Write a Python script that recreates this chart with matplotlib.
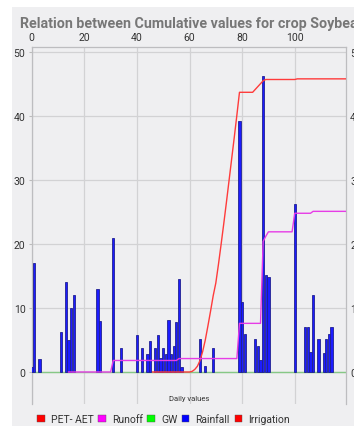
import numpy as np
from matplotlib import pyplot as plt
from matplotlib.patches import Patch, Rectangle

plt.rcParams['font.family'] = ['Roboto', 'DejaVu Sans']

# daily rainfall (bars)
rain_days = [0, 1, 3, 11, 13, 14, 15, 16, 25, 26, 31, 34, 40, 42, 44, 45, 47, 48, 49, 50,
             51, 52, 53, 54, 55, 56, 57, 64, 66, 69, 79, 80, 81, 85, 86, 87, 88, 89, 90,
             100, 104, 105, 106, 107, 109, 111, 112, 113, 114]
rain_vals = [0.8, 17, 2, 6.2, 14, 5, 10, 12, 12.9, 7.9, 21, 3.8, 5.8, 3.8, 2.8, 4.8, 3.8, 5.8, 2.2, 3.8,
             2.8, 8.2, 2.8, 4.0, 7.8, 14.5, 0.8, 5.2, 1.0, 3.8, 39.2, 10.9, 6.0, 5.1, 4.0, 1.9, 46.2, 15.2, 14.9,
             26.3, 7.1, 7.1, 3.2, 12.1, 5.2, 3.0, 5.2, 5.9, 7.1]

# cumulative PET-AET
pet_days = [46, 60, 61, 62, 63, 64, 65, 66, 67, 68, 69, 70, 71, 72, 73, 74, 75, 76, 77, 78,
            79, 84, 88, 89, 100, 101, 119.5]
pet_vals = [0, 0, 0.1, 0.4, 0.9, 1.8, 3.2, 5.0, 7.2, 9.5, 11.9, 13.9, 16.8, 19.9, 23.1, 26.4, 29.8, 33.2, 36.6, 40.1,
            43.7, 43.7, 45.5, 45.7, 45.7, 45.8, 45.8]

# cumulative runoff
ro_days = [14, 30, 31, 55, 56, 78, 79, 87, 88, 89, 90, 99, 100, 106, 107, 119.5]
ro_vals = [0, 0, 1.8, 1.8, 2.1, 2.1, 7.6, 7.6, 20.4, 21.2, 21.9, 21.9, 24.8, 24.8, 25.1, 25.1]

# cumulative GW
gw_days = [0, 119.5]
gw_vals = [0, 0]

legend_names = ['PET- AET', 'Runoff', 'GW', 'Rainfall', 'Irrigation']
legend_colors = ['#ff0000', '#ff00ff', '#00ff00', '#0000ff', '#ff0000']

title = 'Relation between Cumulative values for crop Soybean'
xticks = [0, 20, 40, 60, 80, 100]
yticks = [0, 10, 20, 30, 40, 50]

W, H = 354, 427
fig = plt.figure(figsize=(W / 100, H / 100), dpi=100, facecolor='white')
fig.patches.append(Rectangle((12 / W, 0), 1, 1 - 8 / H, transform=fig.transFigure,
                             facecolor='#efeff1', edgecolor='none', zorder=-10))

ax = fig.add_axes([31.7 / W, 1 - 405 / H, (346 - 31.7) / W, (405 - 48.3) / H])
ax.set_facecolor('none')

ax.bar(rain_days, rain_vals, width=0.85, color='#1c1cff', edgecolor='#202090', linewidth=0.6, zorder=3)
ax.plot(gw_days, gw_vals, color='#86c886', lw=1, zorder=2)
ax.plot(pet_days, pet_vals, color='#ff3b3b', lw=1, zorder=4)
ax.plot(ro_days, ro_vals, color='#e63ce6', lw=1, zorder=4)

ax.set_xlim(0, 119.5)
ax.set_ylim(-5, 50.73)
ax.set_xticks(xticks)
ax.set_yticks(yticks)
ax.grid(True, color='#d2d2d4', lw=0.9, zorder=0)
ax.set_axisbelow(True)

ax.xaxis.tick_top()
ax.tick_params(axis='x', length=0, pad=3.5, labelsize=7.5, labelcolor='#333333')
ax.tick_params(axis='y', length=2, pad=2.5, labelsize=7.5, labelcolor='#333333', color='#bbbbbb')
for s in ['left', 'top', 'right']:
    ax.spines[s].set_color('#bdbdc0')
    ax.spines[s].set_linewidth(0.9)
ax.spines['bottom'].set_visible(False)

ax2 = ax.twinx()
ax2.set_ylim(ax.get_ylim())
ax2.set_yticks(yticks)
ax2.tick_params(axis='y', length=0, pad=3, labelsize=7.5, labelcolor='#333333')
for s in ax2.spines.values():
    s.set_visible(False)

ax.text(0.5, 0.018, 'Daily values', transform=ax.transAxes, ha='center', va='center',
        fontsize=5.5, color='#333333')

fig.text(20 / W, 1 - 24 / H, title, ha='left', va='center', fontsize=10.3,
         fontweight='bold', color='#777777')

handles = [Patch(facecolor=c, edgecolor='#555555', linewidth=0.3) for c in legend_colors]
fig.legend(handles, legend_names, loc='center left', bbox_to_anchor=(28 / W, 1 - 420 / H),
           ncol=5, frameon=False, fontsize=7.5, handlelength=0.7, handleheight=0.7,
           handletextpad=0.6, columnspacing=0.45, labelcolor='#333333')

fig.savefig('out.png', dpi=100, facecolor=fig.get_facecolor())
